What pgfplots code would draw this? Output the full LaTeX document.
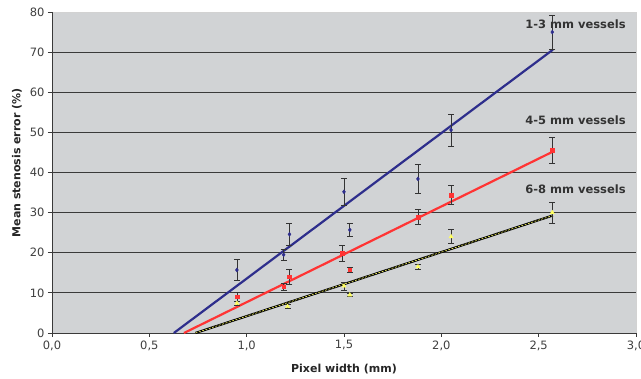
\documentclass[border=0pt]{standalone}
\usepackage{pgfplots}
\pgfplotsset{compat=1.18}
\usepackage{fontspec}
\setmainfont{DejaVu Sans}
\definecolor{bggray}{HTML}{D1D3D5}
\definecolor{navy}{HTML}{2E2E8C}
\definecolor{myred}{HTML}{FF3434}
\definecolor{myyel}{HTML}{FFFF60}
\definecolor{gridc}{HTML}{3A3A3A}
\begin{document}
\begin{tikzpicture}
\useasboundingbox[fill=white] (-52pt,-46pt) rectangle (589pt,333pt);
\begin{axis}[
  at={(0,0)}, anchor=south west,
  scale only axis, width=584pt, height=321pt,
  xmin=0, xmax=3, ymin=0, ymax=80,
  xtick={0,0.5,...,3}, ytick={0,10,...,70},
  extra y ticks={80}, extra y tick style={grid=none},
  /pgf/number format/assume math mode=true,
  xticklabel style={/pgf/number format/.cd, fixed, fixed zerofill, precision=1, use comma},
  yticklabel style={/pgf/number format/.cd, fixed, precision=0},
  ticklabel style={font=\fontsize{11.5}{13}\selectfont, text=black!75},
  axis lines*=left,
  axis line style={gridc, line width=0.9pt},
  tick align=outside, major tick length=4pt,
  tick style={gridc, line width=0.8pt},
  ymajorgrids, major grid style={gridc, line width=0.9pt},
  axis background/.style={fill=bggray, draw=gray!35},
  xlabel={\textbf{Pixel width (mm)}},
  ylabel={\textbf{Mean stenosis error (\%)}},
  label style={font=\fontsize{11}{13}\selectfont, text=black!85},
  xlabel style={at={(axis description cs:0.5,-0.112)}, anchor=center},
  ylabel style={at={(axis description cs:-0.060,0.53)}, anchor=center},
  clip=false,
]
% trend lines
\addplot[navy, line width=2.2pt] coordinates {(0.626,0) (2.573,70.6)};
\addplot[myred, line width=2.2pt] coordinates {(0.678,0) (2.573,45.2)};
\addplot[black, line width=2.2pt] coordinates {(0.737,0) (2.573,29.3)};
\addplot[myyel, line width=0.6pt, dash pattern=on 2pt off 1.5pt] coordinates {(0.737,0) (2.573,29.3)};
% data with error bars
\addplot[only marks, mark=diamond*, mark size=2pt, navy,
  error bars/.cd, y dir=both, y explicit,
  error bar style={black!80, line width=0.8pt},
  error mark options={black!80, line width=0.8pt, rotate=90, mark size=3pt}]
  table[x=x, y=y, y error=e] {
x y e
0.95 15.7 2.7
1.19 19.5 1.4
1.22 24.6 2.8
1.50 35.2 3.3
1.53 25.7 1.6
1.88 38.4 3.6
2.05 50.6 4.0
2.57 75.0 4.2
};
\addplot[only marks, mark=square*, mark size=1.8pt, myred,
  error bars/.cd, y dir=both, y explicit,
  error bar style={black!80, line width=0.8pt},
  error mark options={black!80, line width=0.8pt, rotate=90, mark size=3pt}]
  table[x=x, y=y, y error=e] {
x y e
0.95 9.0 1.1
1.19 11.5 0.8
1.22 14.0 1.9
1.49 19.9 2.0
1.53 15.8 0.6
1.88 28.9 1.8
2.05 34.4 2.4
2.57 45.5 3.2
};
\addplot[only marks, mark=triangle*, mark size=2.4pt, myyel,
  error bars/.cd, y dir=both, y explicit,
  error bar style={black!80, line width=0.8pt},
  error mark options={black!80, line width=0.8pt, rotate=90, mark size=3pt}]
  table[x=x, y=y, y error=e] {
x y e
0.95 7.4 0.5
1.21 6.6 0.5
1.50 11.7 1.0
1.53 9.5 0.4
1.88 16.5 0.7
2.05 24.0 1.7
2.57 30.0 2.6
};
\node[anchor=east, font=\bfseries\fontsize{11.5}{13}\selectfont, text=black!80] at (axis cs:2.965,77) {1-3 mm vessels};
\node[anchor=east, font=\bfseries\fontsize{11.5}{13}\selectfont, text=black!80] at (axis cs:2.965,53.1) {4-5 mm vessels};
\node[anchor=east, font=\bfseries\fontsize{11.5}{13}\selectfont, text=black!80] at (axis cs:2.965,35.9) {6-8 mm vessels};
\end{axis}
\end{tikzpicture}
\end{document}
